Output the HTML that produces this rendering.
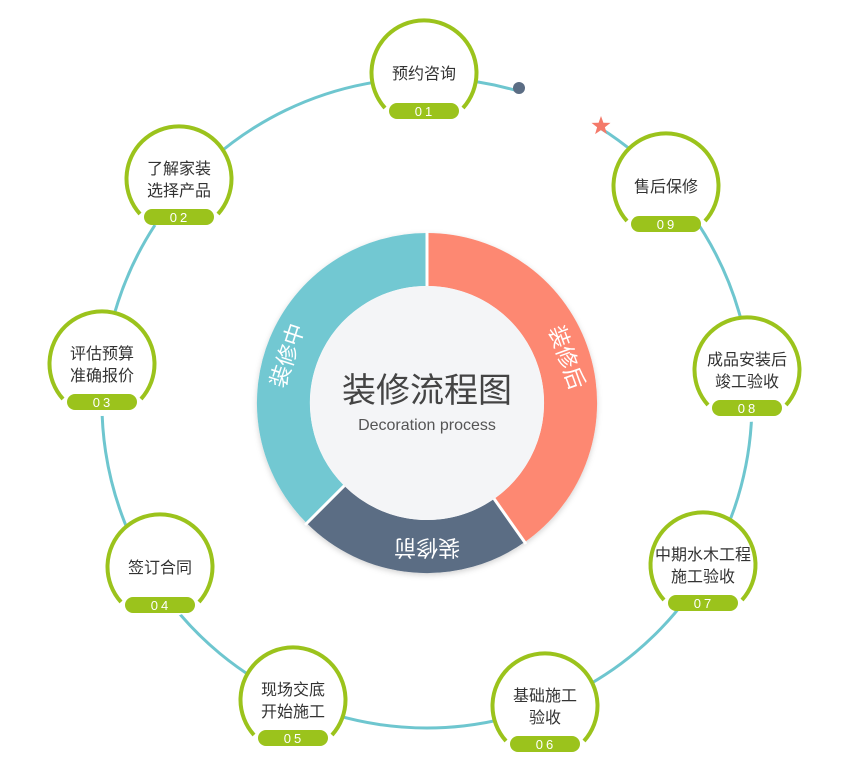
<!DOCTYPE html>
<html><head><meta charset="utf-8"><style>
html,body{margin:0;padding:0;background:#fff;}
svg{display:block;font-family:"Liberation Sans","Noto Sans CJK SC",sans-serif;}
.n{font-size:16px;fill:#333;text-anchor:middle;}
.p{font-size:13px;fill:#fff;text-anchor:middle;letter-spacing:3px;}
</style></head><body>
<svg width="850" height="776" viewBox="0 0 850 776" xmlns="http://www.w3.org/2000/svg">
<defs>
<filter id="sh" x="-20%" y="-20%" width="140%" height="140%"><feDropShadow dx="0" dy="2" stdDeviation="3" flood-color="#000" flood-opacity="0.18"/></filter>
<g id="node">
<circle r="52" fill="#fff"/>
<path d="M-39,35 A52.5,52.5 0 1 1 39,35" fill="none" stroke="#9bc31c" stroke-width="4"/>
<rect x="-35" y="30" width="70" height="16" rx="8" fill="#9bc31c"/>
</g>
</defs>
<path d="M599.2,127.4 A325,325 0 1 1 516.6,90.6" fill="none" stroke="#6ec6cf" stroke-width="3"/>
<circle cx="519" cy="88" r="6" fill="#5b6d84"/>
<polygon fill="#f47a6a" points="601,116 603.4,122.7 610.5,122.9 604.9,127.3 606.9,134.1 601,130.1 595.1,134.1 597.1,127.3 591.5,122.9 598.6,122.7"/>
<g filter="url(#sh)">
<circle cx="427" cy="403" r="170" fill="#fff"/>
</g>
<path d="M427,259.5 A143.5,143.5 0 0 1 509.3,520.6" fill="none" stroke="#fd8872" stroke-width="53"/>
<path d="M509.3,520.6 A143.5,143.5 0 0 1 325.5,504.5" fill="none" stroke="#5b6d84" stroke-width="53"/>
<path d="M325.5,504.5 A143.5,143.5 0 0 1 427,259.5" fill="none" stroke="#72c8d2" stroke-width="53"/>
<g stroke="#fff" stroke-width="3">
<line x1="427" y1="287" x2="427" y2="231"/>
<line x1="494.1" y1="498.8" x2="526" y2="544"/>
<line x1="344.3" y1="485.7" x2="305" y2="525"/>
</g>
<circle cx="427" cy="403" r="117" fill="#f4f5f7"/>
<text x="427" y="402" font-size="34" fill="#444" text-anchor="middle">装修流程图</text>
<text x="427" y="430" font-size="16" fill="#555" text-anchor="middle">Decoration process</text>
<text transform="translate(565,358) rotate(70)" font-size="22" fill="#fff" text-anchor="middle" dominant-baseline="middle">装修后</text>
<text transform="translate(289,356) rotate(-72)" font-size="22" fill="#fff" text-anchor="middle" dominant-baseline="middle">装修中</text>
<text transform="translate(427,546) rotate(180)" font-size="22" fill="#fff" text-anchor="middle" dominant-baseline="middle">装修前</text>
<g transform="translate(424,73)"><use href="#node"/><text class="n" y="6">预约咨询</text><text class="p" y="43" x="1">01</text></g>
<g transform="translate(179,179)"><use href="#node"/><text class="n" y="-5">了解家装</text><text class="n" y="17">选择产品</text><text class="p" y="43" x="1">02</text></g>
<g transform="translate(102,364)"><use href="#node"/><text class="n" y="-5">评估预算</text><text class="n" y="17">准确报价</text><text class="p" y="43" x="1">03</text></g>
<g transform="translate(160,567)"><use href="#node"/><text class="n" y="6">签订合同</text><text class="p" y="43" x="1">04</text></g>
<g transform="translate(293,700)"><use href="#node"/><text class="n" y="-5">现场交底</text><text class="n" y="17">开始施工</text><text class="p" y="43" x="1">05</text></g>
<g transform="translate(545,706)"><use href="#node"/><text class="n" y="-5">基础施工</text><text class="n" y="17">验收</text><text class="p" y="43" x="1">06</text></g>
<g transform="translate(703,565)"><use href="#node"/><text class="n" y="-5">中期水木工程</text><text class="n" y="17">施工验收</text><text class="p" y="43" x="1">07</text></g>
<g transform="translate(747,370)"><use href="#node"/><text class="n" y="-5">成品安装后</text><text class="n" y="17">竣工验收</text><text class="p" y="43" x="1">08</text></g>
<g transform="translate(666,186)"><use href="#node"/><text class="n" y="6">售后保修</text><text class="p" y="43" x="1">09</text></g>
</svg>
</body></html>
